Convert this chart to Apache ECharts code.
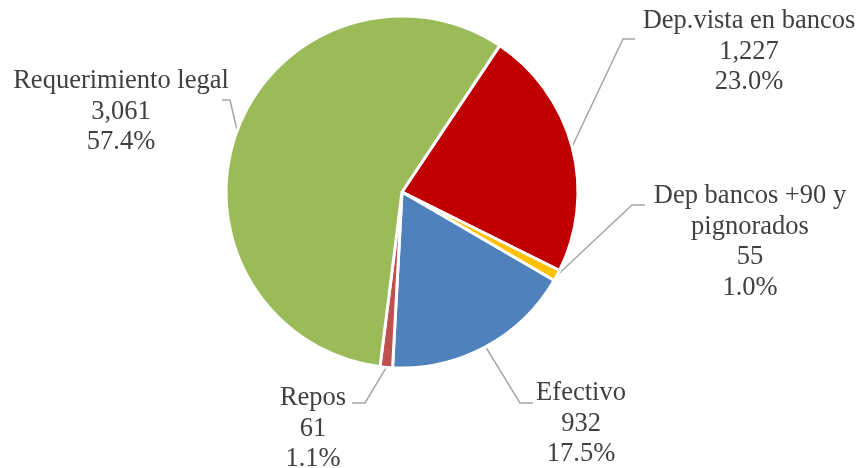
<!DOCTYPE html>
<html>
<head>
<meta charset="utf-8">
<script src="https://cdn.jsdelivr.net/npm/echarts@6/dist/echarts.min.js"></script>
<style>html,body{margin:0;padding:0;background:#fff}#c{width:859px;height:468px}</style>
</head>
<body>
<div id="c"></div>
<script>
const categories = ["Dep.vista en bancos", "Dep bancos +90 y\npignorados", "Efectivo", "Repos", "Requerimiento legal"];
const values = [1227, 55, 932, 61, 3061];
const colors = ["#C00000", "#FFC000", "#4F81BD", "#C0504D", "#9BBB59"];
// label block centres and leader-line elbows/ends (text layout only)
const labelPos = [[749, 52], [750, 242], [581, 424], [313, 429], [121, 112]];
const leaderElbow = [[623, 39], [632, 205], [520, 403], [365, 403], [230, 100]];
const leaderEnd = [[635, 39], [645, 205], [533, 403], [352, 403], [222, 100]];

const chart = echarts.init(document.getElementById('c'));
function fmt(n){ return n.toString().replace(/\B(?=(\d{3})+(?!\d))/g, ','); }
const FONT = "'Liberation Serif', 'Times New Roman', serif";
chart.setOption({
  animation: false,
  backgroundColor: '#ffffff',
  series: [{
    type: 'pie',
    center: [402, 192],
    radius: 176,
    startAngle: 56.3,
    clockwise: true,
    percentPrecision: 1,
    avoidLabelOverlap: false,
    itemStyle: { borderColor: '#ffffff', borderWidth: 3 },
    label: {
      show: true,
      position: 'outside',
      fontFamily: FONT,
      fontSize: 26.5,
      lineHeight: 30.5,
      color: '#404040',
      formatter: p => p.name.split('\n').concat([fmt(p.value), p.percent.toFixed(1) + '%']).map(s => '{a|' + s + '}').join('\n'),
      rich: { a: { align: 'center', fontFamily: FONT, fontSize: 26.5, lineHeight: 30.5, color: '#404040' } }
    },
    labelLine: { show: true, length: 40, length2: 12, lineStyle: { color: '#A6A6A6', width: 1.5 } },
    labelLayout: p => {
      const i = p.dataIndex;
      return {
        x: labelPos[i][0], y: labelPos[i][1], align: 'center', verticalAlign: 'middle',
        labelLinePoints: [p.labelLinePoints[0], leaderElbow[i], leaderEnd[i]]
      };
    },
    data: categories.map((c, i) => ({ name: c, value: values[i], itemStyle: { color: colors[i] } }))
  }]
});
</script>
</body>
</html>
